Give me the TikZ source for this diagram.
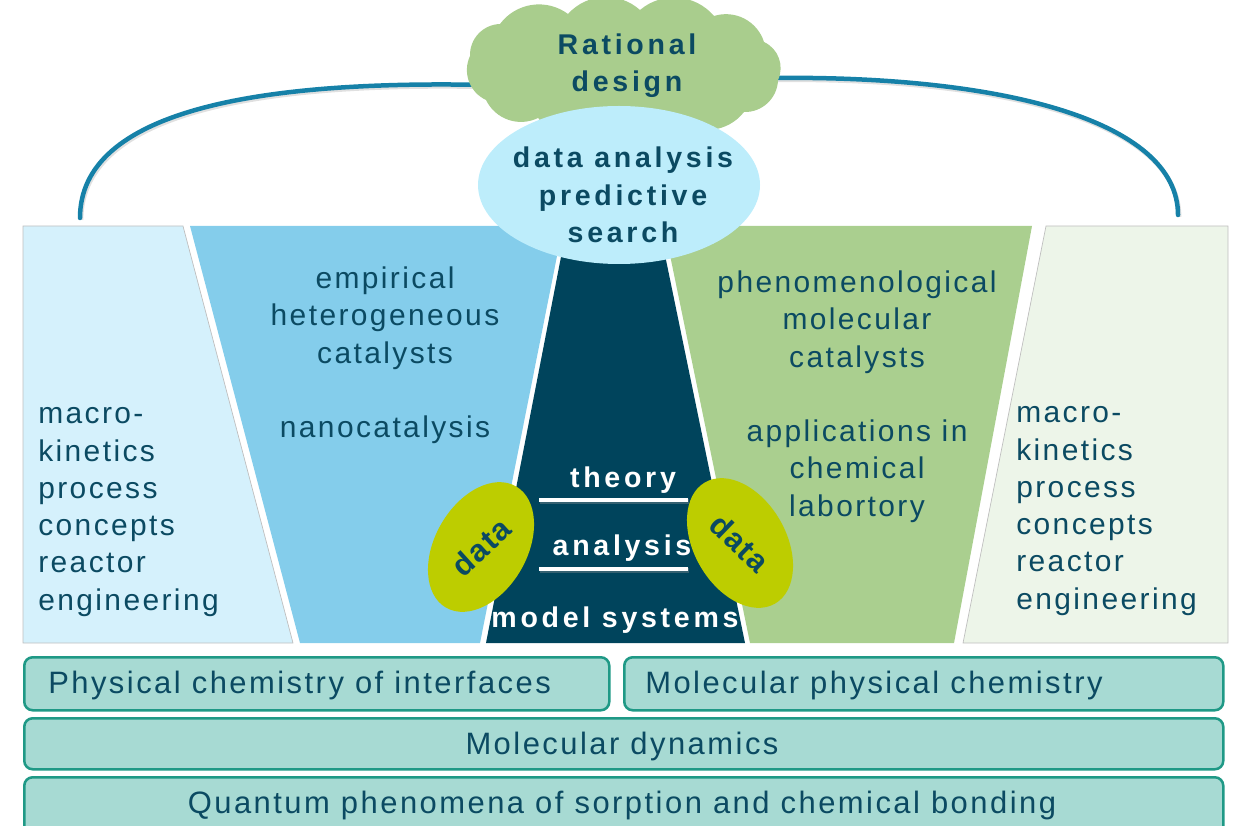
\documentclass[tikz,border=0pt]{standalone}
\usepackage{fontspec}
\setmainfont{Liberation Sans}
\newfontfamily\widefont[LetterSpace=8]{Liberation Sans}
\newfontfamily\widebold[LetterSpace=13]{Liberation Sans Bold}
\newfontfamily\blobfont[LetterSpace=5]{Liberation Sans Bold}
\usetikzlibrary{shapes.geometric,positioning}

\definecolor{txtdark}{HTML}{0B4A62}
\definecolor{paleblue}{HTML}{D5F1FC}
\definecolor{midblue}{HTML}{84CDEB}
\definecolor{deepteal}{HTML}{00445C}
\definecolor{midgreen}{HTML}{AACF8F}
\definecolor{palegreen}{HTML}{EDF5E9}
\definecolor{cloudgreen}{HTML}{A9CD8D}
\definecolor{skyblue}{HTML}{BDEDFB}
\definecolor{datagreen}{HTML}{BDCD00}
\definecolor{arcblue}{HTML}{1681A8}
\definecolor{barfill}{HTML}{A7DAD3}
\definecolor{barline}{HTML}{1F9986}

\newcommand{\pu}{0.025cm}

\tikzset{
  paneltext/.style={font=\widefont\fontsize{21.3}{26.5}\selectfont, text=txtdark, inner sep=0pt},
  boldtext/.style={font=\widebold\fontsize{20.3}{26.5}\selectfont, text=txtdark, inner sep=0pt},
  whitetext/.style={boldtext, text=white},
  blobtext/.style={font=\blobfont\fontsize{22}{26}\selectfont, text=txtdark, inner sep=0pt},
  barbox/.style={draw=barline, fill=barfill, line width=1.8pt, rounded corners=6pt, inner sep=0pt},
  bartext/.style={font=\widefont\fontsize{22}{26}\selectfont, text=txtdark, inner sep=0pt},
  whiteline/.style={draw=white, line width=3.5pt,
    preaction={draw=black!40, opacity=0.35, line width=3.5pt, transform canvas={xshift=0.8pt, yshift=-1.2pt}}},
  bigarc/.style={draw=arcblue, line width=3.2pt, line cap=round,
    preaction={draw=black!40, opacity=0.3, line width=3.2pt, transform canvas={xshift=0.8pt, yshift=-1.4pt}}},
  puff/.style={bend left=45},
  datablob/.style={ellipse, fill=datagreen, minimum width=140*\pu, minimum height=92*\pu, inner sep=0pt},
}

\begin{document}
\begin{tikzpicture}[x=0.025cm, y=-0.025cm]
  \useasboundingbox (0,0) rectangle (1233,826);

  % columns
  \filldraw[fill=paleblue, draw=black!25, line width=0.5pt]
    (23,226) -- (183,226) -- (293,643) -- (23,643) -- cycle;
  \fill[midblue] (190,226) -- (563,226) -- (480,643) -- (300,643) -- cycle;
  \fill[deepteal] (567,226) -- (659,226) -- (745,643) -- (486,643) -- cycle;
  \fill[midgreen] (664,226) -- (1032,226) -- (954,643) -- (750,643) -- cycle;
  \filldraw[fill=palegreen, draw=black!25, line width=0.5pt]
    (1046,226) -- (1228,226) -- (1228,643) -- (963,643) -- cycle;

  \coordinate (lt) at (80,218);
  \coordinate (rt) at (1178,215);
  \coordinate (cl) at (487,85);
  \coordinate (cr) at (770,78);

  \draw[bigarc] (lt) .. controls (80,110) and (260,80) .. (cl);
  \draw[bigarc] (cr) .. controls (1000,75) and (1178,120) .. (rt);

  % cloud
  \fill[cloudgreen] (470,56) to[puff] (500,24) to[puff] (568,14) to[puff] (640,10)
    to[puff] (714,16) to[puff] (764,42) to[puff] (778,80) to[puff] (744,112)
    to[puff] (678,120) to[puff] (608,122) to[puff] (538,118) to[puff] (486,100)
    to[puff] cycle;
  \node[ellipse, fill=skyblue, minimum width=282*\pu, minimum height=158*\pu] (search) at (619,185) {};

  \node[boldtext, align=center] (rational) at (627,66) {Rational\\design};
  \node[boldtext, align=center] (predict) at (623,195) {data analysis\\predictive\\search};

  % side columns
  \node[paneltext, align=left, anchor=west] (macroL) at (38,512)
    {macro-\\kinetics\\process\\concepts\\reactor\\engineering};
  \node[paneltext, align=left, anchor=west] (macroR) at (1016,511)
    {macro-\\kinetics\\process\\concepts\\reactor\\engineering};

  \node[paneltext, align=center] (empirical) at (385,318) {empirical\\heterogeneous\\catalysts};
  \node[paneltext, anchor=base] (nano) at (385,437) {nanocatalysis};
  \node[paneltext, align=center] (pheno) at (857,322) {phenomenological\\molecular\\catalysts};
  \node[paneltext, align=center] (appl) at (857,471) {applications in\\chemical\\labortory};

  % middle column
  \node[datablob, rotate=60] (dataL) at (481,547) {};
  \node[datablob, rotate=-60] (dataR) at (740,543) {};
  \node[blobtext, rotate=42] (dataLtext) at (dataL) {data};
  \node[blobtext, rotate=-44] (dataRtext) at (dataR) {data};

  \node[whitetext, anchor=base] (theory) at (623,487) {theory};
  \draw[whiteline] (539,500) -- (688,500);
  \node[whitetext, anchor=base] (analysis) at (622,555) {analysis};
  \draw[whiteline] (539,569) -- (688,569);
  \node[whitetext, anchor=base] (model) at (615,627) {model systems};

  % foundations
  \node[barbox, anchor=north west, minimum width=585*\pu, minimum height=53*\pu] (bar1) at (23,656) {};
  \node[barbox, anchor=north west, minimum width=599*\pu, minimum height=53*\pu] (bar2) at (623,656) {};
  \node[barbox, anchor=north west, minimum width=1199*\pu, minimum height=51*\pu] (bar3) at (23,717) {};
  \node[barbox, anchor=north west, minimum width=1199*\pu, minimum height=60*\pu] (bar4) at (23,776) {};

  \node[bartext, anchor=base west] (interfaces) at (48,693) {Physical chemistry of interfaces};
  \node[bartext, anchor=base west] (molphys) at (645,693) {Molecular physical chemistry};
  \node[bartext, anchor=base] (dynamics) at (622,754) {Molecular dynamics};
  \node[bartext, anchor=base] (quantum) at (622,813) {Quantum phenomena of sorption and chemical bonding};
\end{tikzpicture}
\end{document}
